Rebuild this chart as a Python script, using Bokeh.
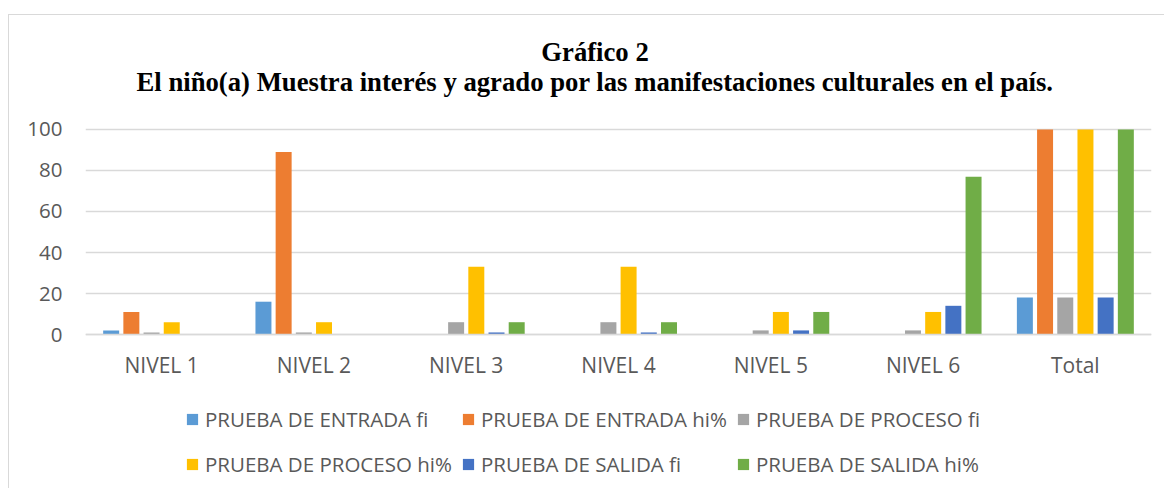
from bokeh.plotting import figure
from bokeh.models import Range1d, Legend, LegendItem, ColumnDataSource, FixedTicker, Label
from bokeh.transform import dodge
from bokeh.embed import file_html
from bokeh.resources import INLINE

categories = ["NIVEL 1", "NIVEL 2", "NIVEL 3", "NIVEL 4", "NIVEL 5", "NIVEL 6", "Total"]
entrada_fi = [2, 16, 0, 0, 0, 0, 18]
entrada_hi = [11, 89, 0, 0, 0, 0, 100]
proceso_fi = [1, 1, 6, 6, 2, 2, 18]
proceso_hi = [6, 6, 33, 33, 11, 11, 100]
salida_fi = [0, 0, 1, 1, 2, 14, 18]
salida_hi = [0, 0, 6, 6, 11, 77, 100]
series_names = ["PRUEBA DE ENTRADA fi", "PRUEBA DE ENTRADA hi%", "PRUEBA DE PROCESO fi",
                "PRUEBA DE PROCESO hi%", "PRUEBA DE SALIDA fi", "PRUEBA DE SALIDA hi%"]
series_keys = ["ef", "eh", "pf", "ph", "sf", "sh"]
colors = ["#5B9BD5", "#ED7D31", "#A5A5A5", "#FFC000", "#4472C4", "#70AD47"]
y_ticks = [0, 20, 40, 60, 80, 100]
title_line1 = "Gráfico 2"
title_line2 = "El niño(a) Muestra interés y agrado por las manifestaciones culturales en el país."

source = ColumnDataSource(dict(cat=categories, ef=entrada_fi, eh=entrada_hi, pf=proceso_fi,
                               ph=proceso_hi, sf=salida_fi, sh=salida_hi))

FONT = "Open Sans"
TXT = "#595959"
H = 474

# y range extended so that the frame spans the whole chart box (titles and legend inside it)
p = figure(x_range=categories, y_range=Range1d(-75.6, 155.6), width=1156, height=H,
           output_backend="svg", toolbar_location=None, title=None,
           min_border_left=76, min_border_right=14, min_border_top=0, min_border_bottom=0)
p.styles = {"margin-left": "8px", "margin-top": "14px",
            "border-left": "1px solid #d9d9d9", "border-top": "1px solid #d9d9d9"}
p.outline_line_color = None
p.background_fill_color = "white"
p.border_fill_color = "white"

step = 0.1326
bw = 0.105
renderers = []
for i, key in enumerate(series_keys):
    off = (i - 2.5) * step
    r = p.vbar(x=dodge("cat", off, range=p.x_range), top=key, width=bw, bottom=0,
               source=source, fill_color=colors[i], line_color=None)
    renderers.append(r)

p.xgrid.grid_line_color = None
p.ygrid.grid_line_color = "#d9d9d9"
p.ygrid.grid_line_width = 1.5
p.yaxis.ticker = FixedTicker(ticks=y_ticks)
p.yaxis.axis_line_color = None
p.yaxis.major_tick_line_color = None
p.yaxis.minor_tick_line_color = None
p.yaxis.major_tick_out = 0
p.yaxis.major_label_standoff = 23
p.yaxis.major_label_text_font = FONT
p.yaxis.major_label_text_font_size = "20.5px"
p.yaxis.major_label_text_color = TXT

p.xaxis.fixed_location = 0
p.xaxis.axis_line_color = "#d9d9d9"
p.xaxis.axis_line_width = 1.5
p.xaxis.major_tick_line_color = None
p.xaxis.major_tick_out = 0
p.xaxis.major_label_standoff = 16
p.xaxis.major_label_text_font = FONT
p.xaxis.major_label_text_font_size = "21px"
p.xaxis.major_label_text_color = TXT

for txt, yy in [(title_line1, 438), (title_line2, 408)]:
    p.add_layout(Label(x=509.5, y=yy, x_units="screen", y_units="screen", text=txt,
                       text_align="center", text_baseline="alphabetic",
                       text_font="Liberation Serif", text_font_style="bold",
                       text_font_size="26.7px", text_color="black"))

items = [LegendItem(label=n, renderers=[r]) for n, r in zip(series_names, renderers)]
legend = Legend(items=items, orientation="horizontal", ncols=3, location=(100, 7),
                glyph_width=14, glyph_height=14, label_standoff=6, label_width=245,
                label_height=36, spacing=9, padding=0, margin=0,
                border_line_color=None, background_fill_alpha=0,
                label_text_font=FONT, label_text_font_size="20.5px", label_text_color=TXT)
p.add_layout(legend, "center")

open("out.html", "w").write(file_html(p, INLINE))
